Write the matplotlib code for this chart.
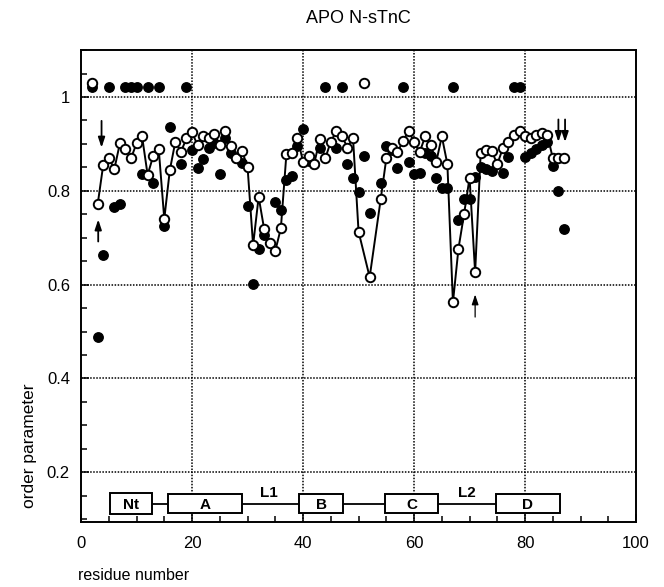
import matplotlib
matplotlib.use("Agg")
import matplotlib.pyplot as plt
from matplotlib.patches import Rectangle
import numpy as np

plt.rcParams['font.family'] = ['Liberation Sans', 'DejaVu Sans']

# open circles (connected by line)
open_res = [3, 4, 5, 6, 7, 8, 9, 10, 11, 12, 13, 14, 15, 16, 17, 18, 19, 20,
            21, 22, 23, 24, 25, 26, 27, 28, 29, 30, 31, 32, 33, 34, 35, 36, 37,
            38, 39, 40, 41, 42, 43, 44, 45, 46, 47, 48, 49, 50, 52, 54, 55, 56,
            57, 58, 59, 60, 61, 62, 63, 64, 65, 66, 67, 68, 69, 70, 71, 72, 73,
            74, 75, 76, 77, 78, 79, 80, 81, 82, 83, 84, 85, 86, 87]
open_val = [0.771, 0.855, 0.871, 0.846, 0.901, 0.889, 0.869, 0.901, 0.916, 0.834,
            0.874, 0.889, 0.740, 0.844, 0.905, 0.883, 0.912, 0.925, 0.897, 0.916,
            0.912, 0.922, 0.897, 0.927, 0.895, 0.871, 0.885, 0.851, 0.684, 0.787,
            0.718, 0.688, 0.672, 0.720, 0.878, 0.880, 0.913, 0.862, 0.874, 0.857,
            0.910, 0.869, 0.905, 0.927, 0.917, 0.892, 0.913, 0.713, 0.616, 0.783,
            0.869, 0.891, 0.882, 0.906, 0.927, 0.905, 0.882, 0.916, 0.897, 0.862,
            0.916, 0.857, 0.562, 0.677, 0.750, 0.828, 0.626, 0.880, 0.886, 0.884,
            0.857, 0.891, 0.905, 0.919, 0.927, 0.917, 0.913, 0.920, 0.924, 0.920,
            0.869, 0.869, 0.869]

# filled circles
fill_res = [3, 4, 6, 7, 11, 13, 15, 16, 18, 20, 21, 22, 23, 24, 25, 26, 27, 28,
            29, 30, 31, 32, 33, 35, 36, 37, 38, 39, 40, 41, 42, 43, 46, 48, 49,
            50, 51, 52, 54, 55, 56, 57, 59, 60, 61, 62, 63, 64, 65, 66, 68, 69,
            70, 71, 72, 73, 74, 76, 77, 80, 81, 82, 83, 84, 85, 86, 87]
fill_val = [0.489, 0.663, 0.766, 0.772, 0.836, 0.817, 0.724, 0.937, 0.857, 0.886,
            0.848, 0.867, 0.891, 0.901, 0.836, 0.912, 0.880, 0.870, 0.860, 0.768,
            0.601, 0.675, 0.706, 0.777, 0.759, 0.824, 0.832, 0.895, 0.932, 0.864,
            0.857, 0.891, 0.891, 0.857, 0.827, 0.797, 0.874, 0.753, 0.817, 0.896,
            0.886, 0.848, 0.862, 0.835, 0.839, 0.880, 0.875, 0.828, 0.807, 0.807,
            0.738, 0.782, 0.782, 0.830, 0.850, 0.847, 0.842, 0.839, 0.873, 0.873,
            0.880, 0.889, 0.898, 0.903, 0.853, 0.800, 0.718]

# off-scale points (plotted above 1)
top_fill_res = [2, 5, 8, 9, 10, 12, 14, 19, 44, 47, 58, 67, 78, 79]
top_fill_val = [1.022] * len(top_fill_res)
top_open_res = [2, 51]
top_open_val = [1.03] * len(top_open_res)

# secondary structure
seg_names = ['Nt', 'A', 'B', 'C', 'D']
seg_start = [5.3, 15.7, 39.3, 54.8, 74.7]
seg_end = [12.8, 29.0, 47.2, 64.4, 86.2]
loop_names = ['L1', 'L2']
loop_pos = [33.8, 69.5]

fig = plt.figure(figsize=(6.64, 5.87), dpi=100)
ax = fig.add_axes([0.122, 0.1107, 0.836, 0.804])

ax.set_xlim(0, 100)
ax.set_ylim(0.094, 1.10)

for v in [20, 40, 60, 80]:
    ax.axvline(v, color='black', lw=1.1, ls=(0, (1, 1)), zorder=1)
for v in [0.2, 0.4, 0.6, 0.8, 1.0]:
    ax.axhline(v, color='black', lw=1.1, ls=(0, (1, 1)), zorder=1)

ms = 6.8
ax.plot(fill_res, fill_val, 'o', color='black', ms=ms, zorder=3)
ax.plot(top_fill_res, top_fill_val, 'o', color='black', ms=ms, zorder=3)
ax.plot(open_res, open_val, '-o', color='black', lw=1.4, ms=ms,
        mfc='white', mec='black', mew=1.4, zorder=4)
ax.plot(top_open_res, top_open_val, 'o', ms=ms, mfc='white', mec='black',
        mew=1.4, zorder=4)

# secondary structure diagram
yc = 0.133
h = 0.04
ax.plot([seg_end[0], seg_start[-1]], [yc, yc], color='black', lw=1.3, zorder=2)
for name, s, e in zip(seg_names, seg_start, seg_end):
    hh = h * 1.12 if name == 'Nt' else h
    ax.add_patch(Rectangle((s, yc - hh / 2), e - s, hh, facecolor='white',
                           edgecolor='black', lw=1.4, zorder=3))
    ax.text((s + e) / 2, yc - 0.002, name, ha='center', va='center',
            fontsize=11, fontweight='bold', zorder=4)
for name, p in zip(loop_names, loop_pos):
    ax.text(p, yc + 0.022, name, ha='center', va='center', fontsize=11,
            fontweight='bold', zorder=4)

# arrows
akw = dict(arrowstyle='-|>,head_length=0.6,head_width=0.2', color='black', lw=1.3)
ax.annotate('', xy=(3.7, 0.886), xytext=(3.7, 0.955), arrowprops=akw)
ax.annotate('', xy=(3.1, 0.745), xytext=(3.1, 0.686), arrowprops=akw)
ax.annotate('', xy=(71.0, 0.585), xytext=(71.0, 0.525),
            arrowprops=dict(arrowstyle='-|>,head_length=0.6,head_width=0.2',
                            color='black', lw=0.9))
ax.annotate('', xy=(86.0, 0.898), xytext=(86.0, 0.958), arrowprops=akw)
ax.annotate('', xy=(87.2, 0.898), xytext=(87.2, 0.958), arrowprops=akw)

ax.set_xticks([0, 20, 40, 60, 80, 100])
ax.set_xticks(np.arange(0, 101, 5), minor=True)
ax.set_yticks([0.2, 0.4, 0.6, 0.8, 1.0])
ax.set_yticklabels(['0.2', '0.4', '0.6', '0.8', '1'])
ax.set_yticks(np.arange(0.1, 1.101, 0.05), minor=True)
ax.tick_params(axis='both', which='both', direction='in', labelsize=12,
               top=False, right=False)
ax.tick_params(axis='both', which='major', length=6, width=1.1)
ax.tick_params(axis='both', which='minor', length=4, width=1.1)
ax.tick_params(axis='x', pad=10)
ax.tick_params(axis='y', pad=8)
for sp in ax.spines.values():
    sp.set_linewidth(1.4)

fig.text(0.54, 0.968, 'APO N-sTnC', ha='center', va='center', fontsize=13)
fig.text(0.118, 0.006, 'residue number', ha='left', va='bottom', fontsize=11.5)
fig.text(0.0437, 0.24, 'order parameter', ha='center', va='center',
         rotation=90, fontsize=12.5)

fig.savefig('out.png', dpi=100)
